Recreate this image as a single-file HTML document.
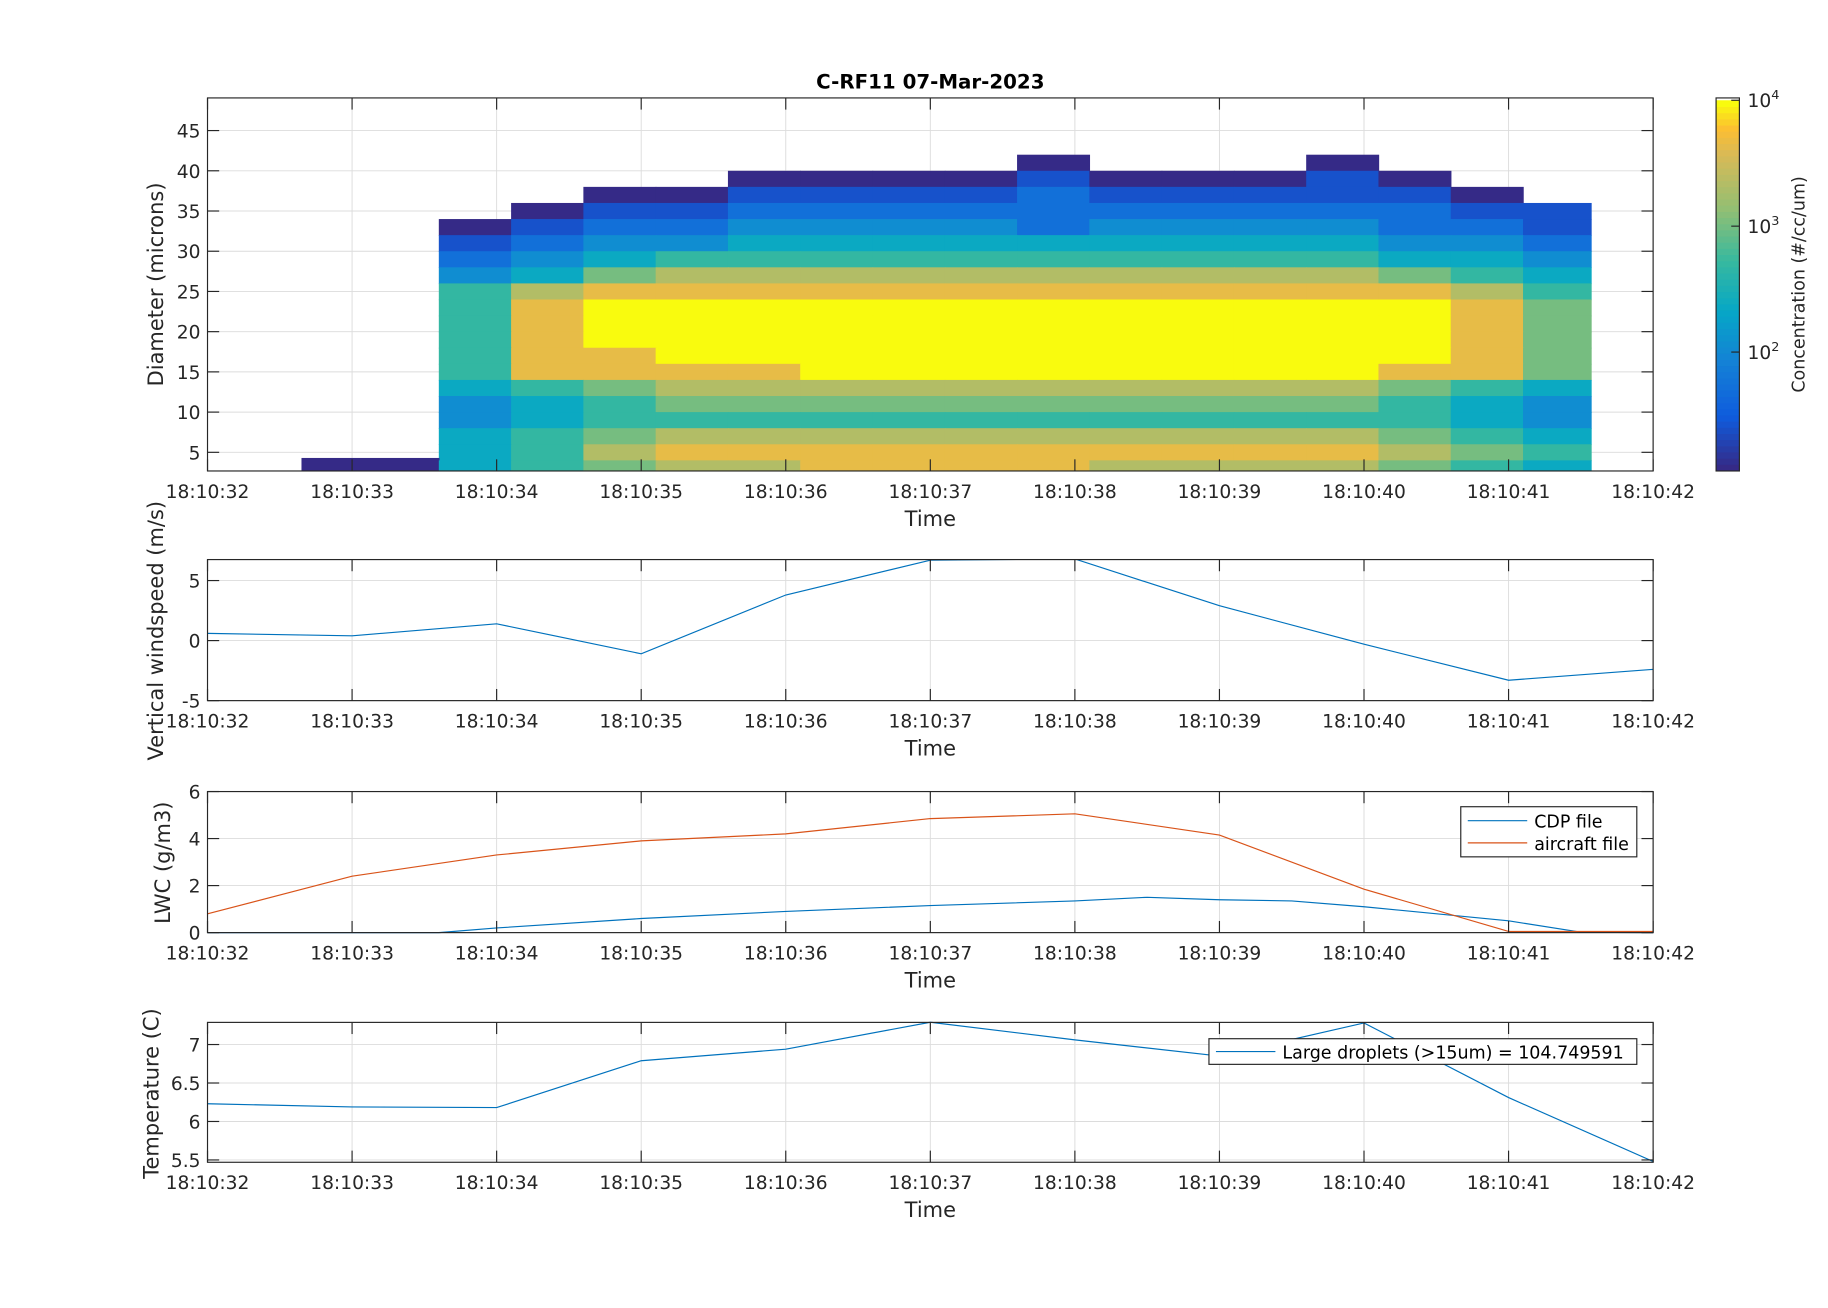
<!DOCTYPE html>
<html><head><meta charset="utf-8"><style>
html,body{margin:0;padding:0;background:#fff;}
svg{display:block;font-family:"DejaVu Sans","Liberation Sans",sans-serif;}
</style></head><body>
<svg id="fig" width="1828" height="1308" viewBox="0 0 1568 1122" preserveAspectRatio="none" xmlns="http://www.w3.org/2000/svg"></svg>
<script>
// ---- data ----
const xTickLabels=["18:10:32","18:10:33","18:10:34","18:10:35","18:10:36","18:10:37","18:10:38","18:10:39","18:10:40","18:10:41","18:10:42"];
// heatmap: column edges (seconds after 18:10:32), diameter row centers (top to bottom), levels 0-9 => log10 conc = 1 + d/3
const colEdges=[0.65,1.6,2.1,2.6,3.1,3.6,4.1,4.6,5.1,5.6,6.1,6.6,7.1,7.6,8.1,8.6,9.1,9.57];
const diamRows=[41,39,37,35,33,31,29,27,25,23,21,19,17,15,13,11,9,7,5,3];
const gridRows=[
".........0...0...",
".....0000100010..",
"...0011112111110.",
"..011222222222211",
".0122333323333221",
".1233444444444332",
".2345555555555443",
".3467777777777654",
".5788888888888875",
".5899999999999986",
".5899999999999986",
".5899999999999986",
".5889999999999986",
".5888899999999886",
".4567777777777654",
".3456666666666543",
".3455555555555543",
".4567777777777654",
".4578888888888765",
"04567788887777654"];
const windT=[0,1,2,3,4,5,6,7,8,9,10];
const windV=[0.6,0.4,1.4,-1.1,3.8,6.7,6.8,2.9,-0.3,-3.3,-2.4];
const lwcAT=[0,1,2,3,4,5,6,7,8,9,10];
const lwcA=[0.8,2.4,3.3,3.9,4.2,4.85,5.05,4.15,1.85,0.05,0.05];
const lwcCT=[0,1,1.6,2,3,4,5,6,6.5,7,7.5,8,9,9.5,10];
const lwcC=[0,0,0,0.2,0.6,0.9,1.15,1.35,1.5,1.4,1.35,1.1,0.5,0.02,0];
const tempT=[0,1,2,3,4,5,6,7,8,9,10];
const tempV=[6.23,6.19,6.18,6.79,6.94,7.29,7.06,6.85,7.28,6.31,5.48];

// ---- drawing ----
const svg=document.getElementById('fig');
const NS="http://www.w3.org/2000/svg";
function el(tag,attrs,parent,text){const e=document.createElementNS(NS,tag);for(const k in attrs)e.setAttribute(k,attrs[k]);if(text!==undefined)e.textContent=text;(parent||svg).appendChild(e);return e;}
const X0=178,X1=1418;
const xs=t=>X0+(X1-X0)*t/10;
const parula=[[0,[53,42,135]],[0.14,[15,92,221]],[0.29,[20,129,214]],[0.43,[6,167,198]],[0.57,[56,185,158]],[0.71,[146,191,115]],[0.86,[217,186,86]],[0.93,[252,190,50]],[1,[249,251,14]]];
function cmap(v){for(let i=1;i<parula.length;i++){if(v<=parula[i][0]){const a=parula[i-1],b=parula[i];const f=(v-a[0])/(b[0]-a[0]);const c=a[1].map((x,j)=>Math.round(x+(b[1][j]-x)*f));return `rgb(${c})`;}}return 'rgb(249,251,14)';}

function axesBox(name,top,bot){
  const g=el('g',{},svg);
  el('rect',{x:X0,y:top,width:X1-X0,height:bot-top,fill:'#fff'},g);
  return g;
}
function gridAndFrame(g,top,bot,yTicks,ys){
  for(let i=0;i<xTickLabels.length;i++){const x=xs(i);
    const gl=el('line',{x1:x,x2:x,y1:top,y2:bot,stroke:'#dcdcdc','stroke-width':0.8},g);}
  yTicks.forEach(v=>{const y=ys(v);const gl=el('line',{x1:X0,x2:X1,y1:y,y2:y,stroke:'#dcdcdc','stroke-width':0.8},g);});
}
function frameAndLabels(g,top,bot,yTicks,ys,yLabel,yLabelX,yLabelY){
  el('rect',{x:X0,y:top,width:X1-X0,height:bot-top,fill:'none',stroke:'#262626','stroke-width':1},g);
  xTickLabels.forEach((lab,i)=>{const x=xs(i);
    el('line',{x1:x,x2:x,y1:bot,y2:bot-10,stroke:'#262626','stroke-width':1},g);
    el('line',{x1:x,x2:x,y1:top,y2:top+10,stroke:'#262626','stroke-width':1},g);
    const t=el('text',{x:x,y:bot+23,'font-size':16,'text-anchor':'middle',fill:'#262626'},g,lab);});
  yTicks.forEach(v=>{const y=ys(v);
    el('line',{x1:X0,x2:X0+10,y1:y,y2:y,stroke:'#262626','stroke-width':1},g);
    el('line',{x1:X1,x2:X1-10,y1:y,y2:y,stroke:'#262626','stroke-width':1},g);
    const t=el('text',{x:X0-6,y:y+6,'font-size':16,'text-anchor':'end',fill:'#262626'},g,String(v));});
  const xt=el('text',{x:798,y:bot+47,'font-size':18,'text-anchor':'middle',fill:'#262626'},g,'Time');
  const yt=el('text',{x:0,y:0,'font-size':18,'text-anchor':'middle',fill:'#262626',transform:`translate(${yLabelX},${yLabelY}) rotate(-90)`},g,yLabel);
}
function line(g,T,V,ys,color,name){
  const pts=T.map((t,i)=>`${xs(t).toFixed(1)},${ys(V[i]).toFixed(1)}`).join(' ');
  const p=el('polyline',{points:pts,fill:'none',stroke:color,'stroke-width':1},g);
}

// title
const title=el('text',{x:798,y:76,'font-size':17,'font-weight':'bold','text-anchor':'middle',fill:'#000'},svg,'C-RF11 07-Mar-2023');


// Panel 1
{const top=84,bot=404;const ys=d=>422.5-6.9*d;const yT=[5,10,15,20,25,30,35,40,45];
 const g=axesBox('size-distribution-panel',top,bot);
 gridAndFrame(g,top,bot,yT,ys);
 const hm=el('g',{'clip-path':'url(#c1)'},g);
 const cp=el('clipPath',{id:'c1'},svg);el('rect',{x:X0,y:top,width:X1-X0,height:bot-top},cp);
 gridRows.forEach((row,r)=>{const d=diamRows[r];for(let c=0;c<row.length;c++){const ch=row[c];if(ch==='.')continue;
   const lv=+ch;const x0=xs(colEdges[c]),x1=xs(colEdges[c+1]);
   const ya=ys(d+1),yb=ys(r===diamRows.length-1?2.5:d-1);
   let h0=ya,h1=yb;if(c===0){h0=ys(4.3);h1=ys(2.8);}
   const cell=el('rect',{x:x0,y:h0,width:x1-x0+0.6,height:h1-h0+0.6,fill:cmap(lv/9)},hm);
   }});
 frameAndLabels(g,top,bot,yT,ys,'Diameter (microns)',140,244);
 // colorbar
 const cb=el('g',{},svg);
 const cy=l=>86+(4-l)*108;
 for(let i=0;i<60;i++){const l0=1.06+(4-1.06)*i/60,l1=1.06+(4-1.06)*(i+1)/60;el('rect',{x:1472,y:cy(l1),width:20,height:cy(l0)-cy(l1)+0.5,fill:cmap(i/59)},cb);}
 el('rect',{x:1472,y:84,width:20,height:320,fill:'none',stroke:'#262626','stroke-width':1},cb);
 [[4,'4'],[3,'3'],[2,'2']].forEach(([l,e])=>{const y=cy(l);el('line',{x1:1485,x2:1492,y1:y,y2:y,stroke:'#262626'},cb);
   const t=el('text',{x:1499,y:y+6,'font-size':16,fill:'#262626'},cb);
   el('tspan',{},t,'10');el('tspan',{dy:-7,'font-size':11},t,e);});
 const cl=el('text',{x:0,y:0,'font-size':15,'text-anchor':'middle',fill:'#262626',transform:'translate(1548,244) rotate(-90)'},cb,'Concentration (#/cc/um)');
 
}
// Panel 2
{const top=480,bot=601;const ys=v=>549.5-10.3*v;const yT=[-5,0,5];
 const g=axesBox('windspeed-panel',top,bot);gridAndFrame(g,top,bot,yT,ys);
 const lg=el('g',{'clip-path':'url(#c2)'},g);const cp=el('clipPath',{id:'c2'},svg);el('rect',{x:X0,y:top,width:X1-X0,height:bot-top},cp);
 line(lg,windT,windV,ys,'#0072bd','windspeed-line');
 frameAndLabels(g,top,bot,yT,ys,'Vertical windspeed (m/s)',140,541);}
// Panel 3
{const top=679,bot=800;const ys=v=>800-20.17*v;const yT=[0,2,4,6];
 const g=axesBox('lwc-panel',top,bot);gridAndFrame(g,top,bot,yT,ys);
 line(g,lwcCT,lwcC,ys,'#0072bd','cdp-lwc-line');line(g,lwcAT,lwcA,ys,'#d95319','aircraft-lwc-line');
 frameAndLabels(g,top,bot,yT,ys,'LWC (g/m3)',146,740);
 const lg=el('g',{},g);
 el('rect',{x:1253,y:692,width:151,height:43,fill:'#fff',stroke:'#262626','stroke-width':1},lg);
 el('line',{x1:1259,x2:1310,y1:704,y2:704,stroke:'#0072bd'},lg);
 const a=el('text',{x:1316,y:710,'font-size':15,fill:'#000'},lg,'CDP file');
 el('line',{x1:1259,x2:1310,y1:723,y2:723,stroke:'#d95319'},lg);
 const b=el('text',{x:1316,y:729,'font-size':15,fill:'#000'},lg,'aircraft file');}
// Panel 4
{const top=877,bot=997;const ys=v=>962-66*(v-6);const yT=[5.5,6,6.5,7];
 const g=axesBox('temperature-panel',top,bot);gridAndFrame(g,top,bot,yT,ys);
 line(g,tempT,tempV,ys,'#0072bd','temperature-line');
 frameAndLabels(g,top,bot,yT,ys,'Temperature (C)',136,938);
 const lg=el('g',{},g);
 el('rect',{x:1037,y:891,width:367,height:22,fill:'#fff',stroke:'#262626','stroke-width':1},lg);
 el('line',{x1:1043,x2:1094,y1:902,y2:902,stroke:'#0072bd'},lg);
 const a=el('text',{x:1100,y:908,'font-size':15,fill:'#000'},lg,'Large droplets (>15um) = 104.749591');}
</script>
</body></html>
